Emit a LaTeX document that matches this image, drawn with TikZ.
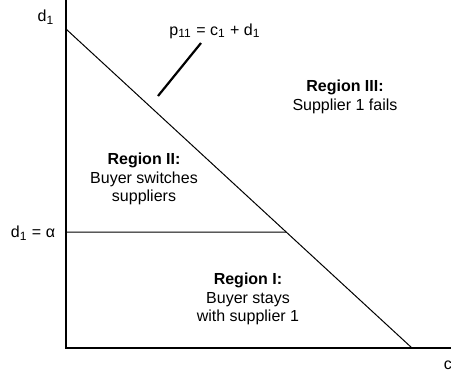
\documentclass[tikz,border=0pt]{standalone}
\usepackage{fontspec}
\setmainfont{Liberation Sans}
\usetikzlibrary{calc}

\begin{document}
\begin{tikzpicture}[x=0.5pt,y=-0.5pt,
    lbl/.style={font=\fontsize{8}{9.3}\selectfont,align=center,inner sep=0pt},
    axis/.style={line width=0.7pt},
    bound/.style={line width=0.5pt},
    pointer/.style={line width=1.1pt}]
	  \useasboundingbox (0,0) rectangle (451,377);
	  \coordinate (o) at (66,348);
	  \coordinate (ytop) at (66,0);
	  \coordinate (xend) at (451,348);
	  \coordinate (dstart) at (66,29);
	  \coordinate (cstart) at (412,348);
	  \coordinate (alpha) at (66,232);
	  \coordinate (meet) at ($(dstart)!{203/319}!(cstart)$);
	  \coordinate (ptail) at (158,96);
	  \coordinate (phead) at (201,43);
	  \draw[axis](ytop) -- (o) -- (xend);
	  \draw[bound](dstart) -- (cstart);
	  \draw[bound](alpha) -- (meet);
	  \draw[pointer](ptail) -- (phead);
	  \draw(46,17) node[lbl](dlab) {d\textsubscript{1}};
	  \draw(215,31) node[lbl](plab) {p\textsubscript{11} = c\textsubscript{1} + d\textsubscript{1}};
	  \draw(33,233) node[lbl](alab) {d\textsubscript{1} = α};
	  \draw(448,365) node[lbl](clab) {c};
	  \draw(345,97) node[lbl](r3) {\textbf{Region III:}\\Supplier 1 fails};
	  \draw(144,179) node[lbl](r2) {\textbf{Region II:}\\Buyer switches\\suppliers};
	  \draw(248,299) node[lbl](r1) {\textbf{Region I:}\\Buyer stays\\with supplier 1};
	\end{tikzpicture}
\end{document}
